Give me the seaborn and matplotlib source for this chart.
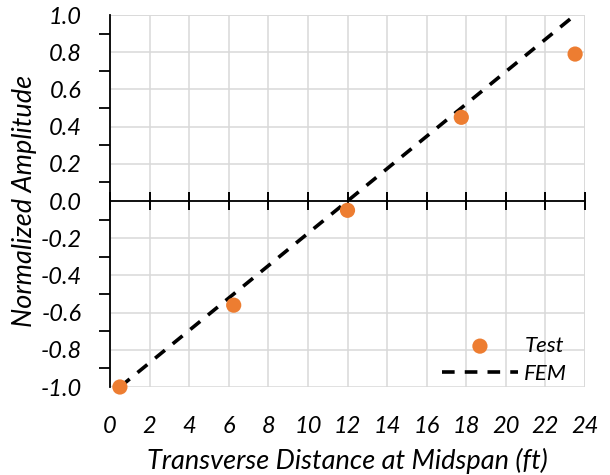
import matplotlib
matplotlib.use("Agg")
import matplotlib.pyplot as plt
import seaborn as sns
import pandas as pd
from matplotlib.ticker import MultipleLocator

# data
test_x = [0.5, 6.25, 12.0, 17.75, 23.5]
test_y = [-1.0, -0.56, -0.05, 0.45, 0.79]
fem_x = [0.5, 6.25, 12.0, 17.75, 23.5]
fem_y = [-1.0, -0.5, 0.0, 0.5, 1.0]

x_ticks = list(range(0, 25, 2))
y_ticks = [-1.0, -0.8, -0.6, -0.4, -0.2, 0.0, 0.2, 0.4, 0.6, 0.8, 1.0]

sns.set_theme(style="white")
plt.rcParams["font.family"] = ["Lato", "DejaVu Sans"]

test_df = pd.DataFrame({"x": test_x, "y": test_y})
fem_df = pd.DataFrame({"x": fem_x, "y": fem_y})

fig = plt.figure(figsize=(6.1, 4.75), dpi=100)
ax = fig.add_axes([110 / 610, 1 - 387 / 475, 475 / 610, 372 / 475])

sns.scatterplot(data=test_df, x="x", y="y", ax=ax, color="#ED7D31", s=120,
                edgecolor="none", label="Test", zorder=4, clip_on=False)
sns.lineplot(data=fem_df, x="x", y="y", ax=ax, color="black", linewidth=2.6,
             linestyle=(0, (3.5, 2.8)), label="FEM", zorder=3)

ax.set_xlim(0, 24)
ax.set_ylim(-1, 1)
ax.set_xticks(x_ticks)
ax.set_yticks(y_ticks)
ax.yaxis.set_minor_locator(MultipleLocator(0.1))
ax.set_yticklabels([f"{v:.1f}" for v in y_ticks])

ax.grid(True, which="major", color="#d9d9d9", linewidth=1.1, zorder=0)
ax.set_axisbelow(True)

for side in ["top", "right", "bottom"]:
    ax.spines[side].set_visible(False)
ax.spines["left"].set_color("black")
ax.spines["left"].set_linewidth(1.3)

# border lines at top and right like the grid
ax.axhline(1.0, color="#d9d9d9", linewidth=1.1, zorder=0)
ax.axvline(24, color="#d9d9d9", linewidth=1.1, zorder=0)
# horizontal axis line at y = 0 with crossing tick marks
ax.axhline(0.0, color="black", linewidth=1.3, zorder=2)
ax.plot(x_ticks, [0.0] * len(x_ticks), linestyle="none", marker="|",
        markersize=12.5, markeredgewidth=1.4, color="black", zorder=2,
        clip_on=False)

ax.tick_params(axis="y", which="major", direction="inout", length=17, width=1.3,
               color="black", labelsize=17, pad=12)
ax.tick_params(axis="y", which="minor", direction="out", length=8, width=1.3,
               color="black", left=True)
ax.tick_params(axis="x", which="major", length=0, labelsize=17, pad=21)

for lab in ax.get_xticklabels() + ax.get_yticklabels():
    lab.set_fontstyle("italic")
    lab.set_color("black")

ax.set_xlabel("Transverse Distance at Midspan (ft)", fontsize=19.5,
              fontstyle="italic", color="black", labelpad=8)
ax.set_ylabel("Normalized Amplitude", fontsize=19.5, fontstyle="italic",
              color="black", labelpad=2)

leg = ax.legend(loc="lower right", frameon=False, fontsize=16,
                handlelength=3.4, handletextpad=0.3, markerfirst=True,
                bbox_to_anchor=(1.005, -0.045), labelspacing=0.35)
for t in leg.get_texts():
    t.set_fontstyle("italic")
    t.set_color("black")

fig.savefig("out.png", dpi=100)
plt.close(fig)
